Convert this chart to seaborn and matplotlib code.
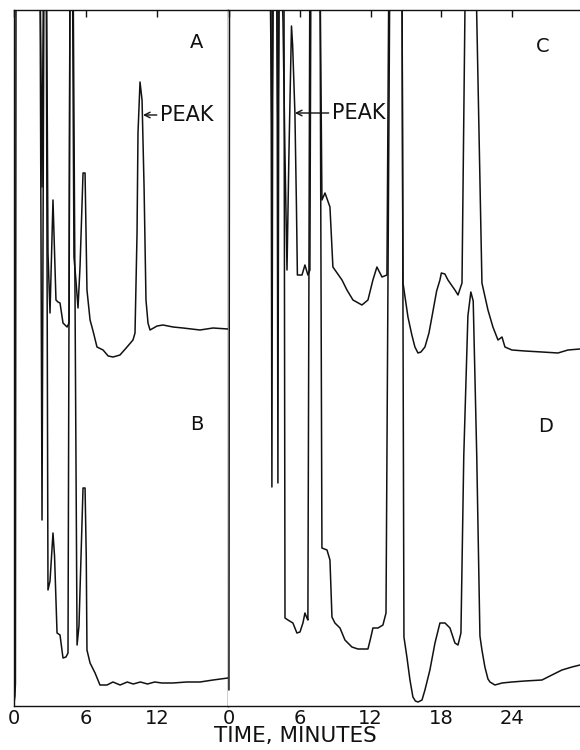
import matplotlib
matplotlib.use("Agg")
import matplotlib.pyplot as plt
import pandas as pd
import seaborn as sns

# Chromatogram traces, time in minutes, pen response in chart units (full scale 69.6).
# Values above full scale are the pen running off the top of the chart.
A_time = [0.0, 2.18, 2.35, 2.48, 2.72, 2.85, 3.02, 3.27, 3.52, 3.69, 3.86, 4.11, 4.45, 4.62,
          4.70, 4.90, 5.03, 5.20, 5.37, 5.54, 5.79, 5.96, 6.12, 6.38, 6.63, 6.96, 7.47, 7.90,
          8.31, 8.89, 9.48, 9.98, 10.15, 10.32, 10.40, 10.57, 10.74, 10.91, 11.07, 11.24,
          11.41, 12.00, 12.50, 13.34, 14.18, 15.60, 16.69, 17.95]
A_resp = [75, 75, 51.9, 75, 75, 45.3, 39.3, 50.6, 40.6, 40.4, 40.3, 38.3, 37.9, 38.3,
          75, 75, 44.9, 42.5, 39.8, 44.0, 53.3, 53.3, 41.6, 38.6, 37.5, 35.9, 35.6, 35.0,
          34.9, 35.1, 35.9, 36.6, 37.3, 47.3, 57.3, 62.4, 60.6, 51.9, 40.6, 38.3,
          37.6, 38.0, 38.1, 37.9, 37.8, 37.6, 37.8, 37.7]

B_time = [0.0, 0.08, 0.12, 0.17, 2.18, 2.35, 2.52, 2.70, 2.85, 3.02, 3.27, 3.40, 3.61, 3.86,
          4.11, 4.36, 4.53, 4.70, 4.95, 5.29, 5.45, 5.79, 5.96, 6.06, 6.12, 6.38, 6.80, 7.21,
          7.80, 8.30, 8.90, 9.50, 10.0, 10.6, 11.2, 11.8, 12.4, 13.3, 14.5, 15.6, 16.7, 17.95]
B_resp = [0.3, 1.0, 2.3, 75, 75, 18.6, 75, 75, 11.6, 12.5, 17.3, 15.0, 7.3, 7.1,
          4.8, 4.9, 5.3, 75, 75, 6.1, 8.0, 21.8, 21.8, 15.0, 5.6, 4.3, 3.3, 2.1,
          2.1, 2.4, 2.1, 2.4, 2.2, 2.4, 2.2, 2.4, 2.3, 2.3, 2.4, 2.4, 2.6, 2.8]

C_time = [0.0, 3.47, 3.64, 3.78, 4.02, 4.15, 4.28, 4.41, 4.58, 4.75, 4.92, 5.08, 5.30, 5.40,
          5.59, 5.72, 5.80, 6.19, 6.44, 6.69, 6.86, 6.95, 7.71, 7.88, 8.14, 8.56, 8.81, 9.58,
          10.00, 10.51, 11.27, 11.78, 12.20, 12.54, 12.97, 13.39, 13.56, 14.66, 14.75, 15.17,
          15.50, 15.76, 16.02, 16.27, 16.61, 16.95, 17.20, 17.60, 17.88, 18.00, 18.30, 18.56,
          19.15, 19.41, 19.75, 20.05, 20.90, 21.44, 21.95, 22.37, 22.80, 23.14, 23.39, 23.98,
          25.08, 26.53, 27.88, 28.73, 29.75]
C_resp = [75, 75, 56.9, 75, 75, 56.9, 75, 75, 68.5, 55.0, 43.6, 55.0, 68.0, 66.0,
          59.3, 50.0, 43.1, 43.1, 44.1, 43.1, 43.6, 75, 75, 50.6, 51.3, 49.9, 43.9, 42.6,
          41.6, 40.6, 40.1, 40.6, 42.6, 43.9, 42.9, 43.1, 75, 75, 42.3, 38.9,
          37.1, 35.9, 35.3, 35.4, 35.9, 37.3, 38.9, 41.5, 42.6, 43.3, 43.2, 42.6,
          41.6, 41.1, 42.3, 75, 75, 42.3, 39.6, 37.9, 36.6, 36.9, 35.9, 35.6,
          35.5, 35.4, 35.3, 35.6, 35.7]

D_time = [0.0, 0.05, 3.56, 3.64, 3.73, 4.07, 4.15, 4.24, 4.66, 4.75, 5.00, 5.42, 5.76, 6.02,
          6.27, 6.44, 6.61, 6.69, 6.86, 7.71, 7.88, 8.31, 8.56, 8.73, 8.98, 9.41, 9.83, 10.42,
          10.93, 11.78, 12.03, 12.20, 12.63, 13.05, 13.31, 13.64, 14.66, 14.83, 15.08, 15.34,
          15.59, 15.80, 16.02, 16.20, 16.36, 16.61, 17.03, 17.46, 17.88, 18.31, 18.73, 19.15,
          19.41, 19.66, 19.90, 20.25, 20.50, 20.70, 21.00, 21.27, 21.44, 21.69, 21.95, 22.12,
          22.54, 23.14, 23.98, 25.08, 26.53, 27.37, 28.22, 29.07, 29.75]
D_resp = [1.6, 75, 75, 21.9, 75, 75, 22.3, 75, 75, 8.8, 8.6, 8.3, 7.3, 7.4,
          8.3, 9.3, 8.8, 8.6, 75, 75, 15.8, 15.6, 14.6, 8.9, 8.3, 7.8, 6.6, 5.9,
          5.7, 5.7, 6.9, 7.8, 7.8, 8.1, 9.3, 75, 75, 6.9, 4.9, 2.6,
          0.9, 0.5, 0.4, 0.5, 0.6, 1.6, 3.6, 6.3, 8.3, 8.3, 7.8, 6.3,
          6.1, 7.3, 25.0, 39.0, 41.4, 40.5, 25.0, 7.0, 5.6, 3.9, 2.7, 2.4,
          2.1, 2.3, 2.4, 2.5, 2.6, 3.1, 3.6, 3.9, 4.1]

left_ticks = [0, 6, 12]
right_ticks = [0, 6, 12, 18, 24]
full_scale = 69.6

sns.set_style("white")
plt.rcParams["font.family"] = ["DejaVu Sans"]

fig = plt.figure(figsize=(5.8, 7.5), dpi=100)
ax_l = fig.add_axes([14 / 580, 44 / 750, 214 / 580, 696 / 750])
ax_r = fig.add_axes([228 / 580, 44 / 750, 352 / 580, 696 / 750])

ink = "#111111"
for ax, traces in [(ax_l, [(A_time, A_resp), (B_time, B_resp)]),
                   (ax_r, [(C_time, C_resp), (D_time, D_resp)])]:
    for t, r in traces:
        df = pd.DataFrame({"time": t, "resp": r})
        sns.lineplot(data=df, x="time", y="resp", ax=ax, sort=False, estimator=None,
                     color=ink, lw=1.1)
    ax.set_ylim(0, full_scale)
    ax.set_yticks([])
    ax.set_xlabel("")
    ax.set_ylabel("")
    ax.tick_params(axis="x", direction="in", top=True, length=5, width=1, pad=2,
                   labelsize=14, colors=ink)
    for s in ax.spines.values():
        s.set_color(ink)
        s.set_linewidth(1.0)

ax_l.set_xlim(0, 17.95)
ax_l.set_xticks(left_ticks)
ax_r.set_xlim(-0.08, 29.75)
ax_r.set_xticks(right_ticks)
ax_r.spines["right"].set_visible(False)
ax_r.spines["left"].set_visible(False)

# panel letters
ax_l.text(15.35, 66.3, "A", fontsize=14, ha="center", va="center", color=ink)
ax_l.text(15.35, 28.1, "B", fontsize=14, ha="center", va="center", color=ink)
ax_r.text(26.6, 65.9, "C", fontsize=14, ha="center", va="center", color=ink)
ax_r.text(26.8, 27.9, "D", fontsize=14, ha="center", va="center", color=ink)

arrow = dict(arrowstyle="->", color=ink, lw=1.0, shrinkA=0, shrinkB=0, mutation_scale=10)
ax_l.annotate("PEAK", xy=(10.82, 59.1), xytext=(12.25, 59.1), fontsize=15, color=ink,
              ha="left", va="center", arrowprops=arrow)
ax_r.annotate("PEAK", xy=(5.59, 59.3), xytext=(8.73, 59.3), fontsize=15, color=ink,
              ha="left", va="center", arrowprops=arrow)

fig.text(0.51, 1 - 736 / 750, "TIME, MINUTES", fontsize=15.5, ha="center", va="center",
         color=ink)

fig.savefig("out.png", dpi=100)
